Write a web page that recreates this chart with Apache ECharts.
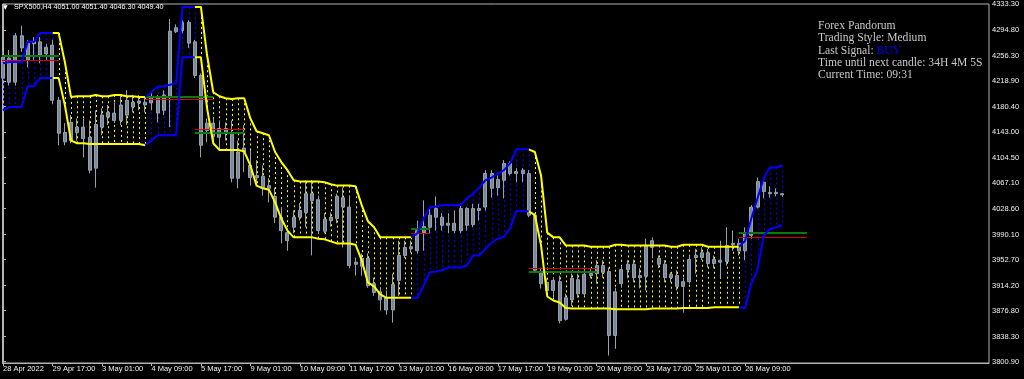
<!DOCTYPE html>
<html><head><meta charset="utf-8">
<script src="https://cdn.jsdelivr.net/npm/echarts@6/dist/echarts.min.js"></script>
<style>html,body{margin:0;padding:0;background:#000;}#chart{width:1024px;height:379px;}</style>
</head><body><div id="chart"></div>
<script>
// ---- chart data (SPX500, H4) ----
const symbolName = 'SPX500';
const timeframe = 'H4';
const xTickBars = [0, 8, 16, 24, 32, 40, 48, 56, 64, 72, 80, 88, 96, 104, 112, 120];
const xTickLabels = ['28 Apr 2022', '29 Apr 17:00', '3 May 01:00', '4 May 09:00', '5 May 17:00', '9 May 01:00',
  '10 May 09:00', '11 May 17:00', '13 May 01:00', '16 May 09:00', '17 May 17:00', '19 May 01:00',
  '20 May 09:00', '23 May 17:00', '25 May 01:00', '26 May 09:00'];
const yTickValues = [3800.90, 3838.30, 3876.80, 3914.20, 3952.70, 3990.10, 4028.60, 4067.10, 4104.50,
  4143.00, 4180.40, 4218.90, 4256.30, 4294.80, 4333.30];

const open = [
4223,4253,4217,4286,4275,4274,4277,4259,4272,4190,
4142,4130,4150,4150,4135,4089,4150,4172,4160,4160,
4190,4180,4189,4183,4195,4171,4175,4195,4292,4306,
4306,4277,4227,4145,4156,4135,4148,4141,4074,4119,
4093,4078,4077,4063,4047,4016,3981,4001,4016,4023,
4051,4042,3995,4011,4014,4045,4031,3946,3955,3955,
3917,3905,3896,3878,3922,3959,3969,3966,3993,4001,
4016,4016,4007,4007,3996,4029,4005,4026,4031,4081,
4060,4071,4096,4081,4086,4081,4019,3934,3919,3907,
3920,3864,3893,3923,3902,3929,3932,3944,3935,3840,
3917,3938,3946,3926,3928,3971,3955,3946,3926,3929,
3913,3920,3956,3956,3963,3947,3952,3950,3975,3977,
3966,3989,4031,4068,4053,4053,4051.00];
const close = [
4254,4217,4286,4268,4250,4277,4257,4269,4190,4141,
4128,4157,4142,4133,4086,4154,4168,4165,4171,4183,
4168,4187,4186,4187,4186,4195,4198,4293,4298,4294,
4275,4227,4123,4156,4136,4148,4141,4074,4113,4113,
4075,4075,4060,4059,4016,3996,3993,4016,4026,4051,
4041,3996,4013,4016,4047,4031,3944,3949,3943,3914,
3904,3893,3878,3916,3959,3971,3972,3996,4002,4019,
4029,4004,4004,3996,4029,4004,4029,4029,4081,4059,
4072,4096,4081,4084,4081,4019,3937,3917,3907,3922,
3862,3896,3925,3902,3931,3932,3944,3934,3840,3905,
3938,3946,3926,3929,3974,3981,3946,3926,3931,3913,
3920,3953,3959,3963,3947,3953,3949,3974,3977,3966,
3992,4031,4069,4054,4051,4051,4049.40];
const high = [
4265,4265,4290,4301,4280,4284,4284,4274,4280,4195,
4156,4168,4163,4163,4160,4175,4178,4183,4187,4198,
4205,4198,4198,4196,4201,4198,4205,4311,4303,4309,
4309,4280,4230,4163,4163,4160,4157,4160,4130,4153,
4116,4101,4093,4074,4060,4031,3999,4026,4037,4071,
4071,4048,4022,4023,4051,4060,4048,3956,3962,3962,
3926,3911,3907,3932,3981,3981,3981,4011,4041,4031,
4047,4022,4022,4026,4036,4031,4036,4036,4086,4086,
4078,4101,4099,4089,4089,4086,4022,3941,3925,3926,
3929,3902,3932,3932,3940,3940,3952,3952,3941,3911,
3944,3952,3953,3940,3984,3986,3959,3952,3934,3937,
3926,3959,3969,3971,3969,3959,3981,4001,3996,3984,
4001,4034,4075,4074,4062,4059,4051.40];
const low = [
4216,4212,4212,4262,4239,4250,4245,4250,4184,4123,
4123,4126,4130,4105,4081,4060,4138,4153,4156,4153,
4153,4172,4175,4172,4175,4157,4168,4150,4290,4290,
4268,4223,4105,4128,4123,4116,4130,4068,4059,4083,
4063,4063,4048,4038,4007,3977,3966,3992,4011,4001,
3959,3992,3992,4002,4007,3971,3940,3929,3929,3911,
3899,3877,3871,3859,3899,3955,3963,3962,3966,3992,
3996,3996,3992,3992,3992,3996,4001,4011,4026,4045,
4048,4044,4078,4068,4068,4016,3934,3910,3902,3896,
3858,3862,3884,3896,3899,3925,3917,3926,3810,3820,
3911,3925,3919,3910,3907,3955,3940,3919,3919,3907,
3874,3917,3932,3952,3941,3940,3926,3944,3966,3959,
3952,3984,4029,4044,4045,4047,4046.30];

// channel indicator: upper / lower band and trend (1 = up / blue, -1 = down / yellow)
const upper = [
4245,4247,4247,4247,4277,4277,4290,4290,4290,4290,
4247,4195,4196,4196,4196,4198,4196,4196,4198,4198,
4196,4196,4195,4195,4202,4210,4211,4213,4216,4329,
4329,4329,4329,4257,4202,4196,4193,4192,4193,4193,
4163,4144,4141,4138,4113,4098,4086,4071,4069,4069,
4069,4069,4068,4065,4063,4063,4063,4062,4034,4010,
4001,3986,3986,3986,3986,3986,3986,3992,4014,4031,
4032,4034,4034,4034,4034,4044,4051,4060,4071,4075,
4081,4086,4096,4117,4117,4117,4113,4078,3993,3986,
3986,3974,3974,3974,3974,3972,3972,3972,3972,3975,
3975,3974,3974,3974,3974,3974,3974,3974,3972,3972,
3975,3975,3975,3975,3972,3972,3972,3972,3972,3972,
3981,4014,4044,4074,4090,4090,4093];
const lower = [
4175,4180,4180,4180,4211,4211,4223,4223,4223,4223,
4183,4130,4126,4126,4125,4125,4125,4125,4125,4125,
4125,4125,4125,4123,4130,4138,4138,4138,4138,4254,
4254,4254,4254,4178,4126,4116,4116,4116,4116,4114,
4093,4063,4059,4057,4038,4014,3996,3986,3986,3986,
3986,3984,3983,3980,3977,3977,3977,3975,3952,3919,
3913,3901,3896,3896,3896,3896,3896,3896,3914,3934,
3935,3937,3941,3941,3941,3944,3959,3959,3969,3978,
3984,3987,3999,4025,4025,4025,4019,3974,3898,3892,
3889,3881,3880,3880,3880,3880,3880,3880,3880,3879,
3879,3879,3879,3879,3879,3880,3880,3880,3880,3880,
3881,3881,3881,3881,3881,3882,3882,3882,3882,3882,
3881,3917,3938,3989,3998,4001,4004];
const trend = [
1,1,1,1,1,1,1,1,1,-1,
-1,-1,-1,-1,-1,-1,-1,-1,-1,-1,
-1,-1,-1,-1,1,1,1,1,1,1,
1,1,-1,-1,-1,-1,-1,-1,-1,-1,
-1,-1,-1,-1,-1,-1,-1,-1,-1,-1,
-1,-1,-1,-1,-1,-1,-1,-1,-1,-1,
-1,-1,-1,-1,-1,-1,-1,1,1,1,
1,1,1,1,1,1,1,1,1,1,
1,1,1,1,1,1,-1,-1,-1,-1,
-1,-1,-1,-1,-1,-1,-1,-1,-1,-1,
-1,-1,-1,-1,-1,-1,-1,-1,-1,-1,
-1,-1,-1,-1,-1,-1,-1,-1,-1,-1,
1,1,1,1,1,1,1];

// signal level lines (bar span, green level, red level)
const signalStart = [-2, 23, 31, 66, 85, 119];
const signalEnd   = [9, 34, 39, 69, 96, 130];
const signalGreen = [4256, 4195, 4142, 3999, 3934, 3992];
const signalRed   = [4250, 4192, 4148, 3992, 3940, 3987];

// info panel
const infoLines = ['Forex Pandorum', 'Trading Style: Medium', 'Last Signal: ', 'Time until next candle: 34H 4M 5S', 'Current Time: 09:31'];
const lastSignal = 'BUY';

// ---- build ----
const n = open.length;
const last = n - 1;
const candleData = open.map((o, i) => [i, o, close[i], low[i], high[i]]);
function band(arr, t) {
  return arr.map((v, i) => (trend[i] === t || trend[i + 1] === t) ? [i, v] : [i, null]);
}
const dotData = upper.map((u, i) => [i, u, lower[i], trend[i]]);
const sigData = [];
signalStart.forEach((s, k) => {
  sigData.push([s, signalEnd[k], signalGreen[k], 0]);
  sigData.push([s, signalEnd[k], signalRed[k], 1]);
});

const axisColor = '#b4b4b4';
const textColor = '#f0f0f0';
const smallFont = 'Liberation Sans';

const chart = echarts.init(document.getElementById('chart'), null, { renderer: 'canvas' });
const lineBase = { type: 'line', symbol: 'none', showSymbol: false, connectNulls: false, silent: true, animation: false };

chart.setOption({
  backgroundColor: '#000000',
  animation: false,
  grid: { left: 2, right: 35, top: 3, bottom: 16, show: true, borderColor: axisColor, borderWidth: 1 },
  xAxis: {
    type: 'value', min: -0.08, max: 159.43,
    axisLine: { show: true, lineStyle: { color: axisColor, width: 1 } },
    axisTick: { show: true, customValues: xTickBars, length: 3, lineStyle: { color: axisColor } },
    axisLabel: {
      customValues: xTickBars,
      formatter: v => xTickLabels[xTickBars.indexOf(v)],
      align: 'left', margin: 2, color: textColor, fontSize: 7.5, fontFamily: smallFont
    },
    splitLine: { show: false }
  },
  yAxis: {
    type: 'value', position: 'right', min: 3799.0, max: 4333.3, scale: true,
    axisLine: { show: true, lineStyle: { color: axisColor, width: 1 } },
    axisTick: { show: true, customValues: yTickValues, length: 3, lineStyle: { color: axisColor } },
    axisLabel: {
      customValues: yTickValues,
      formatter: v => Number(v).toFixed(2),
      margin: 3, color: textColor, fontSize: 7.5, fontFamily: smallFont
    },
    splitLine: { show: false }
  },
  graphic: [
    { type: 'text', left: 3, top: 4, style: { text: '▼', fill: '#ffffff', font: '6px "DejaVu Sans"' } },
    { type: 'text', left: 14, top: 4, style: {
        text: symbolName + ',' + timeframe + ' ' + [open[last], high[last], low[last], close[last]].map(v => v.toFixed(2)).join(' '),
        fill: '#ffffff', font: '7.2px "Liberation Sans"' } },
    { type: 'text', left: 818, top: 19.5, style: {
        text: infoLines.map((l, k) => k === 2 ? l + '{b|' + lastSignal + '}' : l).join('\n'),
        fill: '#c8c8c8', font: '11.6px "Liberation Serif"', lineHeight: 12.4,
        rich: { b: { fill: '#0000ff', font: '11.6px "Liberation Serif"', lineHeight: 12.4 } } } }
  ],
  series: [
    {
      type: 'custom', name: 'fill', silent: true, clip: true, z: 1,
      data: dotData, encode: { x: 0, y: [1, 2] },
      renderItem: (params, api) => {
        const a = api.coord([api.value(0), api.value(1)]);
        const b = api.coord([api.value(0), api.value(2)]);
        const px = Math.round(a[0]) + 0.5;
        return { type: 'line', shape: { x1: px, y1: a[1], x2: px, y2: b[1] },
          style: { stroke: api.value(3) > 0 ? '#0000ff' : '#ffff00', lineWidth: 1, lineDash: [2, 3] } };
      }
    },
    {
      type: 'candlestick', name: symbolName, data: candleData, barWidth: 3.5, z: 3, silent: true,
      itemStyle: { color: '#7b8897', color0: '#7b8897', borderColor: '#95a2b0', borderColor0: '#95a2b0', borderWidth: 1 },
      markLine: {
        silent: true, symbol: 'none', animation: false,
        lineStyle: { opacity: 0 },
        label: { show: true, position: 'end', distance: 2, formatter: () => close[last].toFixed(2),
          backgroundColor: '#ffffff', color: '#000000', fontSize: 7.5, fontFamily: smallFont, padding: [1, 1, 1, 1] },
        data: [{ yAxis: close[last] }]
      }
    },
    {
      type: 'custom', name: 'signals', silent: true, clip: true, z: 4,
      data: sigData, encode: { x: [0, 1], y: 2 },
      renderItem: (params, api) => {
        const a = api.coord([api.value(0), api.value(2)]);
        const b = api.coord([api.value(1), api.value(2)]);
        const green = api.value(3) === 0;
        const y = green ? Math.round(a[1]) : Math.round(a[1]) + 0.5;
        return { type: 'line', shape: { x1: a[0], y1: y, x2: b[0], y2: y },
          style: { stroke: green ? '#0b7a0b' : '#d40000', lineWidth: green ? 2 : 1 } };
      }
    },
    Object.assign({}, lineBase, { name: 'upDown', data: band(upper, -1), z: 5, lineStyle: { color: '#ffff00', width: 2 } }),
    Object.assign({}, lineBase, { name: 'loDown', data: band(lower, -1), z: 5, lineStyle: { color: '#ffff00', width: 2 } }),
    Object.assign({}, lineBase, { name: 'upUp', data: band(upper, 1), z: 5, lineStyle: { color: '#0000ff', width: 2 } }),
    Object.assign({}, lineBase, { name: 'loUp', data: band(lower, 1), z: 5, lineStyle: { color: '#0000ff', width: 2 } })
  ]
});
</script></body></html>
